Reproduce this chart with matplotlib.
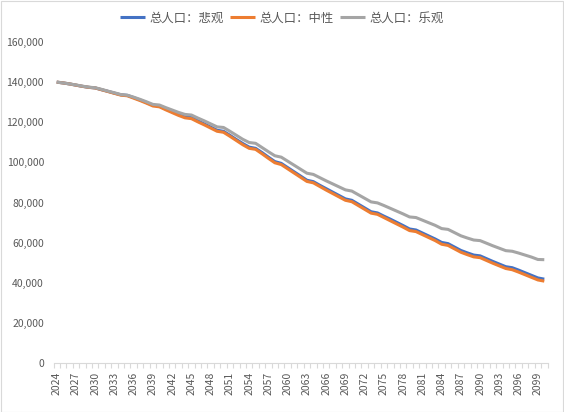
import matplotlib
matplotlib.use("Agg")
import matplotlib.pyplot as plt
from matplotlib.ticker import FuncFormatter, FixedLocator
from matplotlib.patches import Rectangle

plt.rcParams['font.family'] = ['Noto Sans CJK SC', 'DejaVu Sans']

years = list(range(2024, 2101))

pessimistic = [
    140000, 139600, 139100, 138500, 137900, 137400, 137100,
    136200, 135400, 134500, 133700, 133400,
    132300, 131100, 129800, 128500, 128100,
    126600, 125200, 123900, 122700, 122300,
    120700, 119200, 117600, 116000, 115500,
    113500, 111400, 109400, 107600, 107000,
    104900, 102600, 100400, 99500, 97400,
    95300, 93200, 91100, 90400, 88600,
    86900, 85200, 83500, 81800, 81100,
    79200, 77300, 75400, 74800, 73200,
    71700, 70100, 68500, 66800, 66300,
    64800, 63300, 61800, 60100, 59500,
    57800, 56100, 54900, 53800, 53400,
    52000, 50600, 49300, 48000, 47500,
    46300, 45000, 43700, 42400, 41800,
]

neutral = [
    140000, 139600, 139100, 138500, 137900, 137400, 137100,
    136200, 135300, 134400, 133500, 133200,
    132000, 130800, 129500, 128100, 127700,
    126200, 124800, 123400, 122200, 121800,
    120200, 118700, 117100, 115500, 115000,
    113000, 110900, 108800, 107000, 106500,
    104300, 102000, 99800, 98900, 96800,
    94700, 92600, 90500, 89800, 88000,
    86200, 84500, 82800, 81100, 80400,
    78500, 76600, 74700, 74100, 72500,
    70900, 69300, 67700, 66000, 65500,
    64000, 62500, 61000, 59200, 58600,
    56900, 55200, 54000, 52900, 52500,
    51100, 49700, 48400, 47100, 46500,
    45300, 44000, 42700, 41400, 40800,
]

optimistic = [
    140000, 139600, 139100, 138600, 138000, 137500, 137200,
    136400, 135500, 134700, 133800, 133500,
    132500, 131400, 130200, 128900, 128600,
    127300, 126100, 124900, 123900, 123600,
    122100, 120700, 119200, 117700, 117400,
    115500, 113500, 111500, 109900, 109500,
    107400, 105300, 103300, 102600, 100600,
    98600, 96600, 94600, 94000, 92400,
    90800, 89300, 87800, 86300, 85700,
    83900, 82100, 80300, 79800, 78500,
    77100, 75700, 74300, 72800, 72500,
    71200, 69900, 68600, 67000, 66600,
    65000, 63400, 62300, 61300, 61000,
    59700, 58400, 57200, 56000, 55700,
    54800, 53800, 52800, 51600, 51500,
]

series_names = ['总人口：悲观', '总人口：中性', '总人口：乐观']
series_colors = ['#4472C4', '#ED7D31', '#A5A5A5']
y_ticks = [0, 20000, 40000, 60000, 80000, 100000, 120000, 140000, 160000]
label_years = years[::3]

text_color = '#595959'
axis_color = '#D9D9D9'

fig = plt.figure(figsize=(5.64, 4.12), dpi=100)
ax = fig.add_axes([53.5 / 564, 49 / 412, 494 / 564, 321 / 412])

x = list(range(len(years)))
for vals, name, col in zip([pessimistic, neutral, optimistic], series_names, series_colors):
    ax.plot(x, vals, color=col, lw=2.2, label=name, solid_joinstyle='round', solid_capstyle='butt')

ax.set_xlim(-0.5, len(years) - 0.5)
ax.set_ylim(0, 160000)

ax.yaxis.set_major_locator(FixedLocator(y_ticks))
ax.yaxis.set_major_formatter(FuncFormatter(lambda v, p: f"{int(v):,}"))
ax.tick_params(axis='y', length=0, pad=6.8, labelsize=7.5, labelcolor=text_color)

label_pos = [years.index(yv) for yv in label_years]
ax.set_xticks(label_pos)
ax.set_xticklabels([str(yv) for yv in label_years], rotation=90)
ax.set_xticks([i - 0.5 for i in range(len(years) + 1)], minor=True)
ax.tick_params(axis='x', which='major', length=0, pad=6.5, labelsize=7.5, labelcolor=text_color)
ax.tick_params(axis='x', which='minor', length=3.5, width=0.8, color=axis_color, direction='out')

for s in ['top', 'right', 'left']:
    ax.spines[s].set_visible(False)
ax.spines['bottom'].set_color(axis_color)
ax.spines['bottom'].set_linewidth(0.8)
ax.grid(False)

leg = fig.legend(loc='center', bbox_to_anchor=(0.5, 1 - 18 / 412), ncol=3, frameon=False,
                 fontsize=8.9, handlelength=2.0, handletextpad=0.4, columnspacing=0.5,
                 borderaxespad=0)
for t in leg.get_texts():
    t.set_color(text_color)
for h in leg.get_lines():
    h.set_linewidth(2.2)

fig.patches.append(Rectangle((0.5 / 564, 0.5 / 412), 1 - 1.5 / 564, 1 - 1.5 / 412,
                             transform=fig.transFigure, fill=False,
                             edgecolor=axis_color, linewidth=0.8))

fig.savefig('out.png', dpi=100)
